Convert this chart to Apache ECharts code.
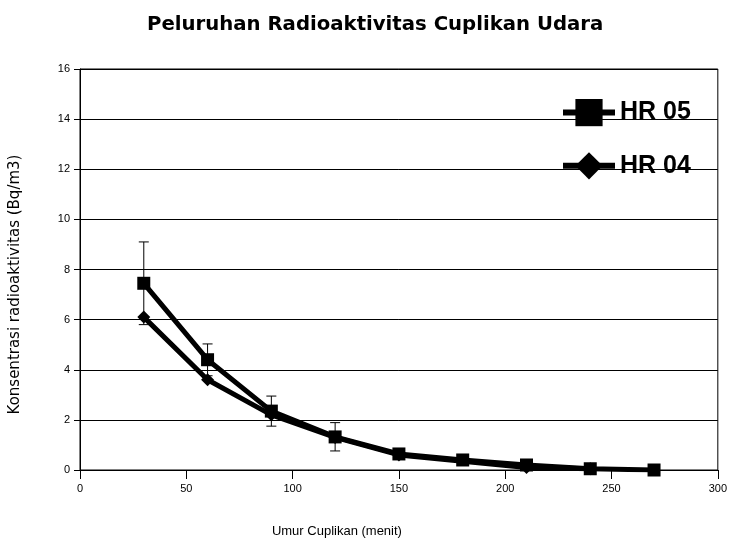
<!DOCTYPE html>
<html>
<head>
<meta charset="utf-8">
<script src="https://cdn.jsdelivr.net/npm/echarts@6/dist/echarts.min.js"></script>
<style>html,body{margin:0;padding:0;background:#fff}#c{width:730px;height:543px}</style>
</head>
<body>
<div id="c"></div>
<script>
var titleText = 'Peluruhan Radioaktivitas Cuplikan Udara';
var xName = 'Umur Cuplikan (menit)';
var yName = 'Konsentrasi radioaktivitas (Bq/m3)';
var hr05X = [30, 60, 90, 120, 150, 180, 210, 240, 270];
var hr05Y = [7.45, 4.4, 2.35, 1.32, 0.64, 0.4, 0.2, 0.05, 0.0];
var hr04X = [30, 60, 90, 120, 150, 210, 240];
var hr04Y = [6.1, 3.6, 2.2, 1.3, 0.6, 0.1, 0.05];
var errX = [30, 60, 90, 120];
var errLow = [5.8, 3.76, 1.75, 0.76];
var errHigh = [9.1, 5.03, 2.95, 1.89];

var chart = echarts.init(document.getElementById('c'));
var font = 'Liberation Sans, Arial, sans-serif';
function pairs(xs, ys){ return xs.map(function(x,i){return [x, ys[i]];}); }
var errData = errX.map(function(x,i){return [x, errLow[i], errHigh[i]];});

chart.setOption({
  backgroundColor: '#fff',
  animation: false,
  title: {
    text: titleText, left: 142, top: 10,
    textStyle: {fontFamily: 'DejaVu Sans', fontSize: 19.7, fontWeight: 'bold', color: '#000'}
  },
  legend: {
    orient: 'vertical', left: 555, top: 94,
    itemWidth: 52, itemHeight: 34, itemGap: 26,
    data: ['HR 05', 'HR 04'],
    lineStyle: {width: 6},
    textStyle: {fontFamily: font, fontSize: 25, fontWeight: 'bold', color: '#000'}
  },
  grid: {left: 80, right: 10, top: 69, bottom: 73, show: true, borderColor: '#000', borderWidth: 1},
  xAxis: {
    type: 'value', min: 0, max: 300, interval: 50,
    name: xName, nameLocation: 'middle', nameGap: 55,
    nameTextStyle: {fontFamily: font, fontSize: 13, color: '#000', padding: [0, 124, 0, 0]},
    axisLine: {lineStyle: {color: '#000', width: 1}},
    axisTick: {show: true, length: 9, lineStyle: {color: '#000'}},
    axisLabel: {fontFamily: font, fontSize: 11, color: '#000', margin: 13},
    splitLine: {show: false}
  },
  yAxis: {
    type: 'value', min: 0, max: 16, interval: 2,
    name: yName, nameLocation: 'middle', nameGap: 57,
    nameTextStyle: {fontFamily: 'DejaVu Sans', fontSize: 15, color: '#000', padding: [0, 30, 0, 0]},
    axisLine: {show: true, lineStyle: {color: '#000', width: 1}},
    axisTick: {show: true, length: 6, lineStyle: {color: '#000'}},
    axisLabel: {fontFamily: font, fontSize: 11, color: '#000', margin: 10},
    splitLine: {show: true, lineStyle: {color: '#000', width: 1}}
  },
  series: [
    {
      name: 'HR 05', type: 'line', data: pairs(hr05X, hr05Y),
      symbol: 'rect', symbolSize: 13, z: 3,
      lineStyle: {color: '#000', width: 5},
      itemStyle: {color: '#000'}
    },
    {
      name: 'HR 04', type: 'line', data: pairs(hr04X, hr04Y),
      symbol: 'diamond', symbolSize: 13, z: 3,
      lineStyle: {color: '#000', width: 5},
      itemStyle: {color: '#000'}
    },
    {
      name: 'err', type: 'custom', data: errData, z: 4,
      renderItem: function(params, api){
        var x = api.value(0);
        var lo = api.coord([x, api.value(1)]);
        var hi = api.coord([x, api.value(2)]);
        var w = 5;
        var st = {stroke: '#000', lineWidth: 1};
        return {type: 'group', children: [
          {type: 'line', shape: {x1: lo[0], y1: lo[1], x2: hi[0], y2: hi[1]}, style: st},
          {type: 'line', shape: {x1: lo[0]-w, y1: lo[1], x2: lo[0]+w, y2: lo[1]}, style: st},
          {type: 'line', shape: {x1: hi[0]-w, y1: hi[1], x2: hi[0]+w, y2: hi[1]}, style: st}
        ]};
      }
    }
  ]
});
</script>
</body>
</html>
